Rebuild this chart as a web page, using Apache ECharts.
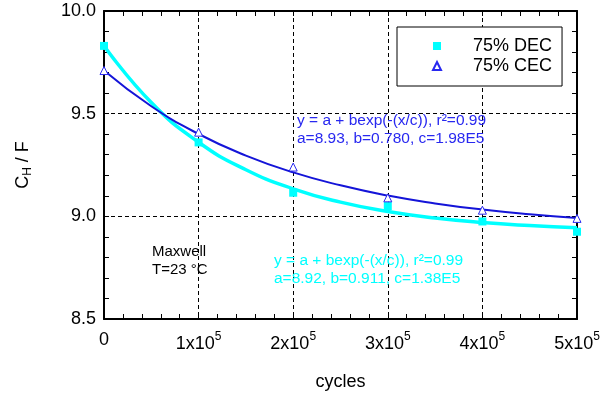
<!DOCTYPE html>
<html>
<head>
<meta charset="utf-8">
<script src="https://cdn.jsdelivr.net/npm/echarts@6/dist/echarts.min.js"></script>
<style>
  html, body { margin: 0; padding: 0; background: #fff; }
  #chart { width: 611px; height: 396px; }
</style>
</head>
<body>
<div id="chart"></div>
<script>
const FONT = "'Liberation Sans', Arial, sans-serif";

// measured points
const cycles = [0, 100000, 200000, 300000, 400000, 500000];
const decValues = [9.83, 9.36, 9.115, 9.05, 8.975, 8.925];
const cecValues = [9.71, 9.41, 9.24, 9.09, 9.03, 8.99];

// fit curves
const fitCycles = [0, 50000, 100000, 150000, 200000, 250000, 300000, 350000, 400000, 450000, 500000];
const decFit = [9.831, 9.554, 9.361, 9.227, 9.134, 9.069, 9.024, 8.992, 8.970, 8.955, 8.944];
const cecFit = [9.71, 9.536, 9.401, 9.296, 9.214, 9.151, 9.101, 9.063, 9.033, 9.010, 8.992];

const xTickLabels = ["0", "1x10{sup|5}", "2x10{sup|5}", "3x10{sup|5}", "4x10{sup|5}", "5x10{sup|5}"];
const yTickLabels = ["8.5", "9.0", "9.5", "10.0"];

const CYAN = "#00ffff";
const BLUE = "#1414d8";
const BLUE_TEXT = "#2828f0";

const pairs = (xs, ys) => xs.map((x, i) => [x, ys[i]]);

const frameAxis = {
  axisLine: { onZero: false, lineStyle: { color: "#000", width: 2 } },
  axisTick: { inside: true, length: 5, lineStyle: { color: "#000", width: 1 } },
  minorTick: { show: true, splitNumber: 5, length: 5, lineStyle: { color: "#000", width: 1 } },
};

const chart = echarts.init(document.getElementById("chart"));

chart.setOption({
  animation: false,
  backgroundColor: "#fff",
  grid: { left: 104, right: 34, top: 11, bottom: 77, outerBoundsMode: "none" },
  xAxis: [
    {
      type: "value",
      min: 0,
      max: 500000,
      interval: 100000,
      position: "bottom",
      ...frameAxis,
      splitLine: { show: true, lineStyle: { color: "#000", width: 1, type: [4, 3] } },
      axisLabel: {
        margin: 12,
        color: "#000",
        fontSize: 18,
        fontFamily: FONT,
        formatter: (v) => xTickLabels[Math.round(v / 100000)],
        rich: {
          sup: { fontSize: 12, fontFamily: FONT, color: "#000", padding: [0, 0, 14, 0] },
        },
      },
      name: "cycles",
      nameLocation: "middle",
      nameGap: 54,
      nameMoveOverlap: false,
      nameTextStyle: { color: "#000", fontSize: 18, fontFamily: FONT },
    },
    {
      type: "value",
      min: 0,
      max: 500000,
      interval: 100000,
      position: "top",
      ...frameAxis,
      splitLine: { show: false },
      axisLabel: { show: false },
    },
  ],
  yAxis: [
    {
      type: "value",
      min: 8.5,
      max: 10,
      interval: 0.5,
      position: "left",
      ...frameAxis,
      splitLine: { show: true, lineStyle: { color: "#000", width: 1, type: [4, 3] } },
      axisLabel: {
        margin: 8,
        color: "#000",
        fontSize: 18,
        fontFamily: FONT,
        formatter: (v) => yTickLabels[Math.round((v - 8.5) / 0.5)],
      },
      name: "C{sub|H} / F",
      nameLocation: "middle",
      nameGap: 70,
      nameRotate: 90,
      nameMoveOverlap: false,
      nameTextStyle: {
        color: "#000",
        fontSize: 18,
        fontFamily: FONT,
        rich: { sub: { fontSize: 12, fontFamily: FONT, color: "#000", padding: [10, 0, 0, 0] } },
      },
    },
    {
      type: "value",
      min: 8.5,
      max: 10,
      interval: 0.5,
      position: "right",
      ...frameAxis,
      splitLine: { show: false },
      axisLabel: { show: false },
    },
  ],
  legend: {
    data: ["75% DEC", "75% CEC"],
    orient: "vertical",
    left: 397,
    top: 27,
    padding: [10, 10, 11, 35],
    itemGap: 2,
    itemWidth: 8,
    itemHeight: 8,
    backgroundColor: "#fff",
    borderColor: "#000",
    borderWidth: 1,
    borderRadius: 0,
    selectedMode: false,
    textStyle: { color: "#000", fontSize: 18, fontFamily: FONT, padding: [0, 0, 0, 27] },
  },
  graphic: [
    {
      type: "text",
      left: 297,
      top: 112,
      z: 10,
      style: {
        text: "y = a + bexp(-(x/c)), r\u00b2=0.99\na=8.93, b=0.780, c=1.98E5",
        fill: BLUE_TEXT,
        font: "15.5px " + FONT,
        lineHeight: 18,
      },
    },
    {
      type: "text",
      left: 274,
      top: 252,
      z: 10,
      style: {
        text: "y = a + bexp(-(x/c)), r\u00b2=0.99\na=8.92, b=0.911, c=1.38E5",
        fill: CYAN,
        font: "15.5px " + FONT,
        lineHeight: 18,
      },
    },
    {
      type: "text",
      left: 152,
      top: 243,
      z: 10,
      style: {
        text: "Maxwell\nT=23 \u00b0C",
        fill: "#000",
        font: "15px " + FONT,
        lineHeight: 18,
      },
    },
  ],
  series: [
    {
      type: "line",
      data: pairs(fitCycles, decFit),
      smooth: true,
      showSymbol: false,
      silent: true,
      lineStyle: { color: CYAN, width: 3.5 },
      z: 2,
    },
    {
      type: "line",
      data: pairs(fitCycles, cecFit),
      smooth: true,
      showSymbol: false,
      silent: true,
      lineStyle: { color: BLUE, width: 2 },
      z: 2,
    },
    {
      type: "scatter",
      name: "75% DEC",
      data: pairs(cycles, decValues),
      symbol: "rect",
      symbolSize: 8,
      itemStyle: { color: CYAN, opacity: 1 },
      z: 3,
    },
    {
      type: "scatter",
      name: "75% CEC",
      data: pairs(cycles, cecValues),
      symbol: "triangle",
      symbolSize: 8,
      itemStyle: { color: "#fff", borderColor: BLUE_TEXT, borderWidth: 1, opacity: 1 },
      z: 3,
    },
  ],
});
</script>
</body>
</html>
